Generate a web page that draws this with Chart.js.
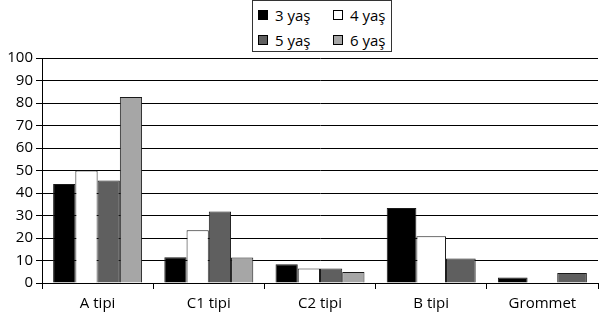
<!DOCTYPE html>
<html lang="tr">

<head>
    <meta charset="UTF-8">
    <script src="https://cdn.jsdelivr.net/npm/chart.js"></script>
    <title>Tipler</title>
    <style>
        body {
            margin: 0;
            background: #fff;
            font-family: "Open Sans", sans-serif;
        }

        .chart_box {
            position: relative;
            width: 599px;
            height: 320px;
        }

        .legenda {
            position: absolute;
            left: 252px;
            top: 0px;
            width: 140px;
            height: 52px;
            border: 1px solid #333;
            box-sizing: border-box;
            background: #fff;
            font-size: 15px;
            color: #000;
        }

        .item {
            position: absolute;
            display: flex;
            align-items: center;
            line-height: 18px;
        }

        .item i {
            display: inline-block;
            width: 8px;
            height: 8px;
            border: 1px solid #000;
            margin-right: 7px;
        }
    </style>
</head>

<body>
    <div class="chart_box">
        <canvas id="myChartCanvas" width="599" height="320"></canvas>
        <div id="legenda" class="legenda"></div>
    </div>

    <script>
        // dados
        const categorias = ['A tipi', 'C1 tipi', 'C2 tipi', 'B tipi', 'Grommet'];
        const series = ['3 yaş', '4 yaş', '5 yaş', '6 yaş'];
        const yas3 = [44, 11.5, 8.3, 33.3, 2.4];
        const yas4 = [50, 23.5, 6.4, 20.8, 0];
        const yas5 = [45.6, 31.8, 6.4, 10.9, 4.5];
        const yas6 = [82.7, 11.3, 4.9, null, null];
        const yTicks = [0, 10, 20, 30, 40, 50, 60, 70, 80, 90, 100];

        const cores = ['#000000', '#ffffff', '#5f5f5f', '#a6a6a6'];
        const valores = [yas3, yas4, yas5, yas6];

        // legenda em html (2 x 2)
        const posLegenda = [[5, 5], [80, 5], [5, 30], [80, 30]];
        let html = '';
        for (let i = 0; i < series.length; i++) {
            html += `<span class="item" style="left:${posLegenda[i][0]}px;top:${posLegenda[i][1]}px">` +
                `<i style="background:${cores[i]}"></i>${series[i]}</span>`;
        }
        legenda.innerHTML = html;

        const dados = {
            labels: categorias,
            datasets: series.map(function (nome, i) {
                return {
                    label: nome,
                    data: valores[i],
                    backgroundColor: cores[i],
                    borderColor: '#1a1a1a',
                    borderWidth: 1,
                    borderSkipped: 'bottom',
                    skipNull: true
                };
            })
        };

        const fonte = { family: '"Open Sans", sans-serif', size: 15 };

        new Chart(document.getElementById('myChartCanvas'), {
            type: 'bar',
            data: dados,
            options: {
                responsive: false,
                animation: false,
                layout: { padding: { top: 58, right: 1, bottom: 1, left: 0 } },
                plugins: { legend: { display: false }, tooltip: { enabled: false } },
                datasets: { bar: { categoryPercentage: 0.8, barPercentage: 1 } },
                scales: {
                    x: {
                        grid: {
                            offset: true,
                            drawOnChartArea: false,
                            drawTicks: true,
                            tickLength: 6,
                            color: '#000'
                        },
                        border: { color: '#000', width: 1 },
                        ticks: { color: '#000', font: fonte, padding: 6, maxRotation: 0 }
                    },
                    y: {
                        min: 0,
                        max: 100,
                        afterBuildTicks: function (s) {
                            s.ticks = yTicks.map(function (v) { return { value: v }; });
                        },
                        afterFit: function (s) { s.width = 42; },
                        grid: { color: '#000', tickLength: 6 },
                        border: { color: '#000', width: 1 },
                        ticks: { color: '#000', font: fonte, padding: 3 }
                    }
                }
            }
        });
    </script>
</body>

</html>
